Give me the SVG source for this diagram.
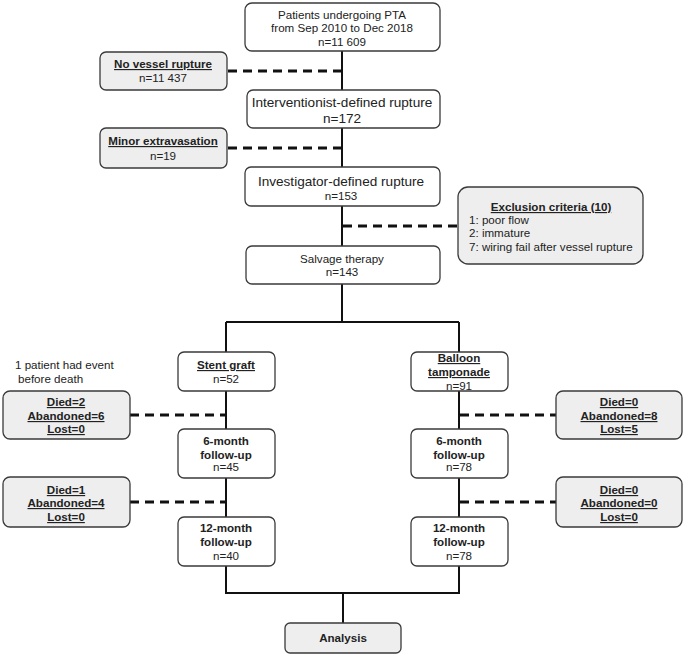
<svg xmlns="http://www.w3.org/2000/svg" width="685" height="657" viewBox="0 0 685 657">
<style>
.box{fill:#ffffff;stroke:#3a3a3a;stroke-width:1.3}
.gbox{fill:#eeeeee;stroke:#3a3a3a;stroke-width:1.3}
text{font-family:"Liberation Sans",Arial,sans-serif;font-size:11.6px;fill:#222;text-anchor:middle}
.b{font-weight:bold}
.u{text-decoration:underline}
.lg{font-size:13.6px}
.l{text-anchor:start}
.solid{fill:none;stroke:#111;stroke-width:2}
.dash{fill:none;stroke:#111;stroke-width:3;stroke-dasharray:9 6}
</style>
<rect width="685" height="657" fill="#ffffff"/>
<g id="connectors">
<path class="solid" d="M342 51V90M342 128V167M342 206V246M342 284V322M226 322H459M226 322V352M459 322V352M226 391V429M459 391V429M226 478V517M459 478V517M226 566V593H459V566M343 593V623"/>
<path class="dash" d="M228 71H342"/>
<path class="dash" d="M228 148H342"/>
<path class="dash" d="M343 226H458"/>
<path class="dash" d="M130 415H226"/>
<path class="dash" d="M130 502H226"/>
<path class="dash" d="M460 415H556"/>
<path class="dash" d="M460 502H556"/>
</g>
<g id="n-patients">
<rect class="box" x="245" y="3" width="195" height="48" rx="7"/>
<text x="342" y="19">Patients undergoing PTA</text>
<text x="342" y="32">from Sep 2010 to Dec 2018</text>
<text x="342" y="46">n=11 609</text>
</g>
<g id="n-novessel">
<rect class="gbox" x="100" y="52" width="127" height="38" rx="6"/>
<text class="b u" x="163" y="68">No vessel rupture</text>
<text x="163" y="82">n=11 437</text>
</g>
<g id="n-interv">
<rect class="box" x="247" y="90" width="193" height="38" rx="6"/>
<text class="lg" x="342" y="107">Interventionist-defined rupture</text>
<text class="lg" x="342" y="123">n=172</text>
</g>
<g id="n-minor">
<rect class="gbox" x="100" y="128" width="127" height="40" rx="6"/>
<text class="b u" x="163" y="145">Minor extravasation</text>
<text x="163" y="160">n=19</text>
</g>
<g id="n-invest">
<rect class="box" x="245" y="167" width="195" height="39" rx="6"/>
<text class="lg" x="341" y="185.5">Investigator-defined rupture</text>
<text x="341" y="200">n=153</text>
</g>
<g id="n-excl">
<rect class="gbox" x="458" y="187" width="185" height="77" rx="10"/>
<text class="b u" x="551" y="211">Exclusion criteria (10)</text>
<text class="l" x="469" y="224">1: poor flow</text>
<text class="l" x="469" y="237">2: immature</text>
<text class="l" x="469" y="251">7: wiring fail after vessel rupture</text>
</g>
<g id="n-salvage">
<rect class="box" x="246" y="246" width="194" height="38" rx="6"/>
<text x="342" y="263">Salvage therapy</text>
<text x="342" y="276">n=143</text>
</g>
<g id="n-note">
<text class="l" x="15" y="369">1 patient had event</text>
<text class="l" x="18" y="383">before death</text>
</g>
<g id="n-stent">
<rect class="box" x="178" y="352" width="97" height="39" rx="6"/>
<text class="b u" x="226" y="369">Stent graft</text>
<text x="226" y="383">n=52</text>
</g>
<g id="n-balloon">
<rect class="box" x="411" y="352" width="97" height="39" rx="6"/>
<text class="b u" x="459" y="362">Balloon</text>
<text class="b u" x="459" y="376">tamponade</text>
<text x="459" y="390">n=91</text>
</g>
<g id="n-loss1L">
<rect class="gbox" x="3" y="391" width="127" height="48" rx="7"/>
<text class="b u" x="66" y="406">Died=2</text>
<text class="b u" x="66" y="420">Abandoned=6</text>
<text class="b u" x="66" y="433">Lost=0</text>
</g>
<g id="n-loss1R">
<rect class="gbox" x="556" y="391" width="126" height="48" rx="7"/>
<text class="b u" x="619" y="406">Died=0</text>
<text class="b u" x="619" y="420">Abandoned=8</text>
<text class="b u" x="619" y="433">Lost=5</text>
</g>
<g id="n-6mL">
<rect class="box" x="178" y="429" width="97" height="49" rx="6"/>
<text class="b" x="226" y="445">6-month</text>
<text class="b" x="226" y="459">follow-up</text>
<text x="226" y="471">n=45</text>
</g>
<g id="n-6mR">
<rect class="box" x="411" y="429" width="97" height="49" rx="6"/>
<text class="b" x="459" y="445">6-month</text>
<text class="b" x="459" y="459">follow-up</text>
<text x="459" y="471">n=78</text>
</g>
<g id="n-loss2L">
<rect class="gbox" x="3" y="477" width="127" height="50" rx="7"/>
<text class="b u" x="66" y="494">Died=1</text>
<text class="b u" x="66" y="507">Abandoned=4</text>
<text class="b u" x="66" y="521">Lost=0</text>
</g>
<g id="n-loss2R">
<rect class="gbox" x="556" y="477" width="126" height="50" rx="7"/>
<text class="b u" x="619" y="494">Died=0</text>
<text class="b u" x="619" y="507">Abandoned=0</text>
<text class="b u" x="619" y="521">Lost=0</text>
</g>
<g id="n-12mL">
<rect class="box" x="178" y="517" width="97" height="49" rx="6"/>
<text class="b" x="226" y="532">12-month</text>
<text class="b" x="226" y="546">follow-up</text>
<text x="226" y="560">n=40</text>
</g>
<g id="n-12mR">
<rect class="box" x="411" y="517" width="97" height="49" rx="6"/>
<text class="b" x="459" y="532">12-month</text>
<text class="b" x="459" y="546">follow-up</text>
<text x="459" y="560">n=78</text>
</g>
<g id="n-analysis">
<rect class="gbox" x="285" y="623" width="116" height="30" rx="5"/>
<text class="b" x="343" y="642">Analysis</text>
</g>
</svg>
